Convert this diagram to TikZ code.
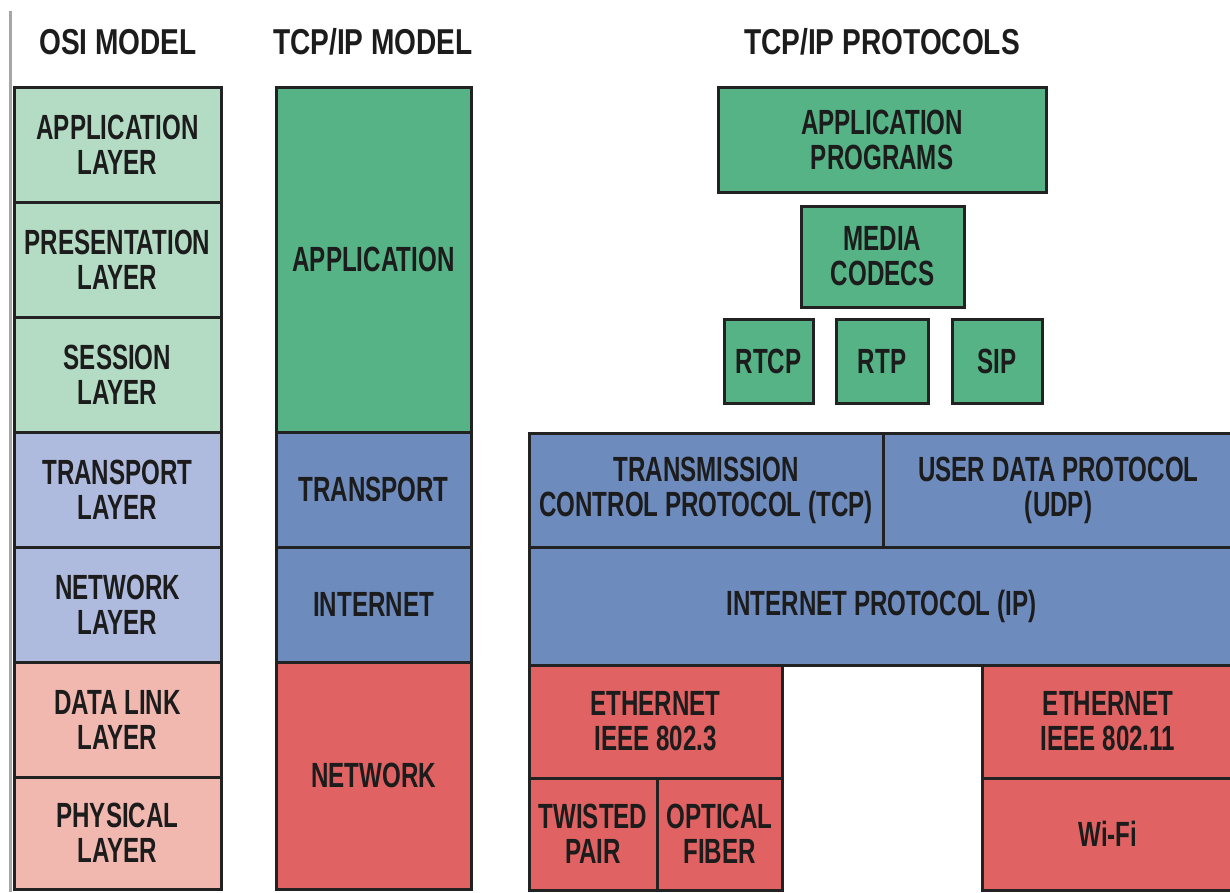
\documentclass[tikz,border=0pt]{standalone}
\usepackage{fontspec}
\setmainfont{Liberation Sans}[FakeStretch=0.69]
\newfontfamily\headfont{Liberation Sans}[FakeStretch=0.78]
\usepackage{tikz}

\definecolor{ink}{HTML}{1C1C1C}
\definecolor{edge}{HTML}{222222}
\definecolor{osigreen}{HTML}{B4DCC4}
\definecolor{osiblue}{HTML}{AFBADF}
\definecolor{osipink}{HTML}{F1B8B0}
\definecolor{appgreen}{HTML}{55B386}
\definecolor{netblue}{HTML}{6E8BBE}
\definecolor{linkred}{HTML}{E06262}

\begin{document}
\begin{tikzpicture}[x=1pt,y=-1pt,
    layer/.style={draw=edge, line width=3pt, inner sep=0pt, outer sep=0pt, align=center, text=ink,
      font=\fontsize{35}{35}\selectfont\bfseries},
    size/.style 2 args={minimum width=#1pt, minimum height=#2pt},
    head/.style={text=ink, font=\headfont\fontsize{36}{36}\selectfont\bfseries}]
        \useasboundingbox (0,0) rectangle (1230,892);
        \clip (0,0) rectangle (1230,892);
        \draw[line width=3pt, gray!70] (10.5,11) -- (10.5,892);
        % column headings
        \node[head] (osihead) at (118,42) {OSI MODEL};
        \node[head] (tcphead) at (373,42) {TCP/IP MODEL};
        \node[head] (protohead) at (882,42) {TCP/IP PROTOCOLS};
        % OSI model
        \node[layer, size={207}{115}, fill=osigreen] (osiapp) at (117.5,144.5) {APPLICATION\\LAYER};
        \node[layer, size={207}{115}, fill=osigreen] (osipres) at (117.5,259.5) {PRESENTATION\\LAYER};
        \node[layer, size={207}{115}, fill=osigreen] (osisess) at (117.5,374.5) {SESSION\\LAYER};
        \node[layer, size={207}{115}, fill=osiblue] (ositrans) at (117.5,489.5) {TRANSPORT\\LAYER};
        \node[layer, size={207}{115}, fill=osiblue] (osinet) at (117.5,604.5) {NETWORK\\LAYER};
        \node[layer, size={207}{115}, fill=osipink] (osidata) at (117.5,719.5) {DATA LINK\\LAYER};
        \node[layer, size={207}{112}, fill=osipink] (osiphys) at (117.5,833) {PHYSICAL\\LAYER};
        % TCP/IP model
        \node[layer, size={195}{345}, fill=appgreen] (tcpapp) at (373.5,259.5) {APPLICATION};
        \node[layer, size={195}{115}, fill=netblue] (tcptrans) at (373.5,489.5) {TRANSPORT};
        \node[layer, size={195}{115}, fill=netblue] (tcpinet) at (373.5,604.5) {INTERNET};
        \node[layer, size={195}{227}, fill=linkred] (tcpnet) at (373.5,775.5) {NETWORK};
        % TCP/IP protocols
        \node[layer, size={328}{105}, fill=appgreen] (progs) at (882,139.5) {APPLICATION\\PROGRAMS};
        \node[layer, size={163}{101}, fill=appgreen] (codecs) at (882.5,256.5) {MEDIA\\CODECS};
        \node[layer, size={89}{84}, fill=appgreen] (rtcp) at (768.5,361) {RTCP};
        \node[layer, size={92}{84}, fill=appgreen] (rtp) at (882,361) {RTP};
        \node[layer, size={90}{84}, fill=appgreen] (sip) at (997,361) {SIP};
        \node[layer, size={354}{114}, fill=netblue] (tcp) at (706,490) {TRANSMISSION\\CONTROL PROTOCOL (TCP)};
        \node[layer, size={351}{114}, fill=netblue] (udp) at (1058.5,490) {USER DATA PROTOCOL\\(UDP)};
        \node[layer, size={705}{118}, fill=netblue] (ip) at (881.5,606) {INTERNET PROTOCOL (IP)};
        \node[layer, size={253}{113}, fill=linkred] (eth3) at (655.5,721.5) {ETHERNET\\IEEE 802.3};
        \node[layer, size={128}{112}, fill=linkred] (twisted) at (593,834) {TWISTED\\PAIR};
        \node[layer, size={125}{112}, fill=linkred] (fiber) at (719.5,834) {OPTICAL\\FIBER};
        \node[layer, size={252}{113}, fill=linkred] (eth11) at (1108,721.5) {ETHERNET\\IEEE 802.11};
        \node[layer, size={252}{112}, fill=linkred] (wifi) at (1108,834) {Wi-Fi};
\end{tikzpicture}
\end{document}
